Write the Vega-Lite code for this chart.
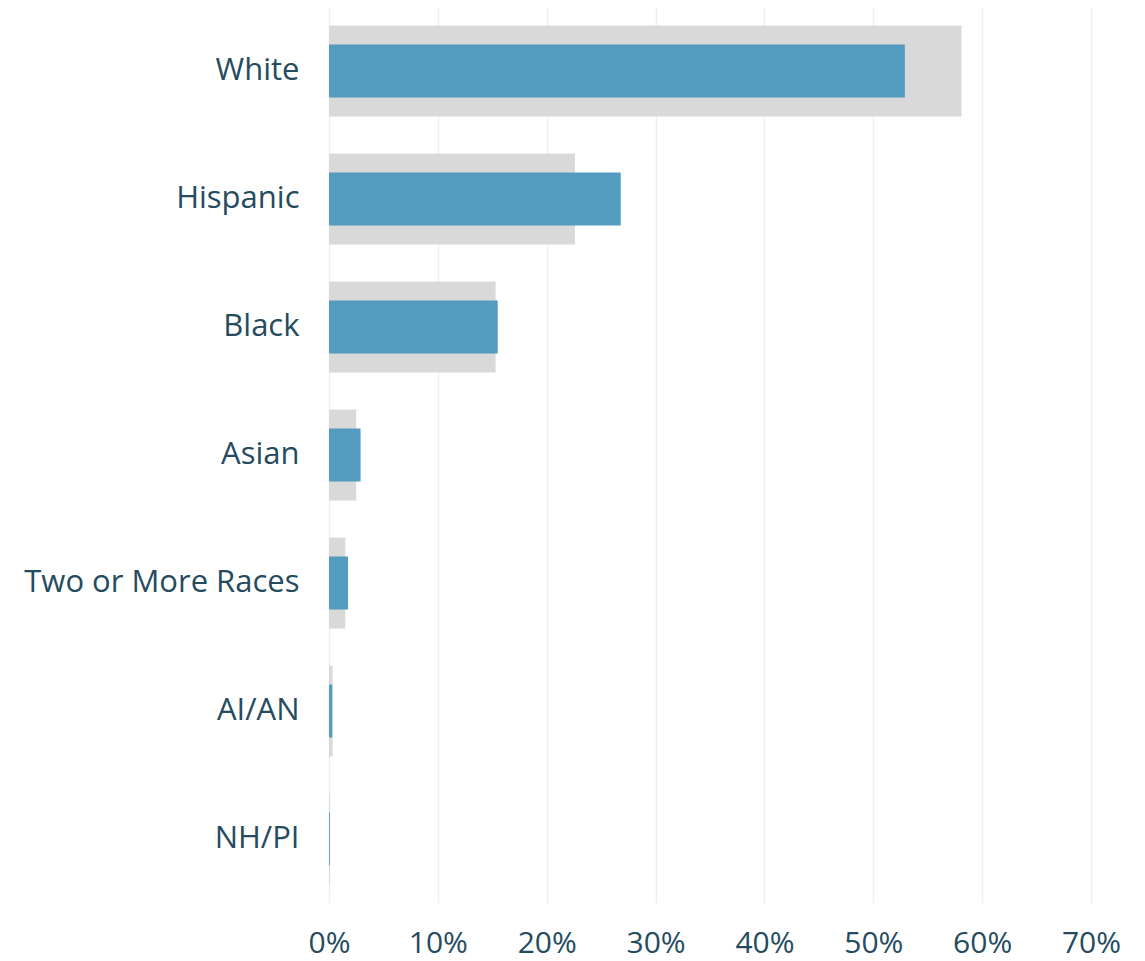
{
  "$schema": "https://vega.github.io/schema/vega-lite/v6.json",
  "autosize": {"type": "none"},
  "padding": {"left": 329, "top": 7, "right": 54, "bottom": 58},
  "width": 762,
  "height": 896,
  "background": "white",
  "data": {"values": [
    {"group": "White", "benchmark": 0.581, "share": 0.529},
    {"group": "Hispanic", "benchmark": 0.226, "share": 0.268},
    {"group": "Black", "benchmark": 0.153, "share": 0.155},
    {"group": "Asian", "benchmark": 0.025, "share": 0.029},
    {"group": "Two or More Races", "benchmark": 0.015, "share": 0.0175},
    {"group": "AI/AN", "benchmark": 0.0033, "share": 0.003},
    {"group": "NH/PI", "benchmark": 0.0008, "share": 0.0008}
  ]},
  "encoding": {
    "y": {
      "field": "group", "type": "nominal", "sort": null, "title": null,
      "scale": {"paddingInner": 0.29, "paddingOuter": 0.145},
      "axis": {"domain": false, "ticks": false, "grid": false, "labelPadding": 30,
               "labelFont": "Open Sans", "labelFontSize": 31, "labelColor": "#254b5f", "labelLimit": 400}
    }
  },
  "layer": [
    {
      "mark": {"type": "bar", "color": "#d9d9d9"},
      "encoding": {
        "x": {
          "field": "benchmark", "type": "quantitative", "title": null,
          "scale": {"domain": [0, 0.7], "nice": false},
          "axis": {"format": ".0%", "values": [0, 0.1, 0.2, 0.3, 0.4, 0.5, 0.6, 0.7],
                   "domain": false, "ticks": false, "grid": true, "gridColor": "#efefef", "gridWidth": 1.5,
                   "labelBaseline": "alphabetic", "labelPadding": 49,
                   "labelFont": "Open Sans", "labelFontSize": 30, "labelColor": "#254b5f",
                   "labelFlush": false}
        }
      }
    },
    {
      "mark": {"type": "bar", "color": "#549cbf", "size": 53},
      "encoding": {
        "x": {"field": "share", "type": "quantitative"}
      }
    }
  ],
  "config": {"view": {"stroke": null}}
}
